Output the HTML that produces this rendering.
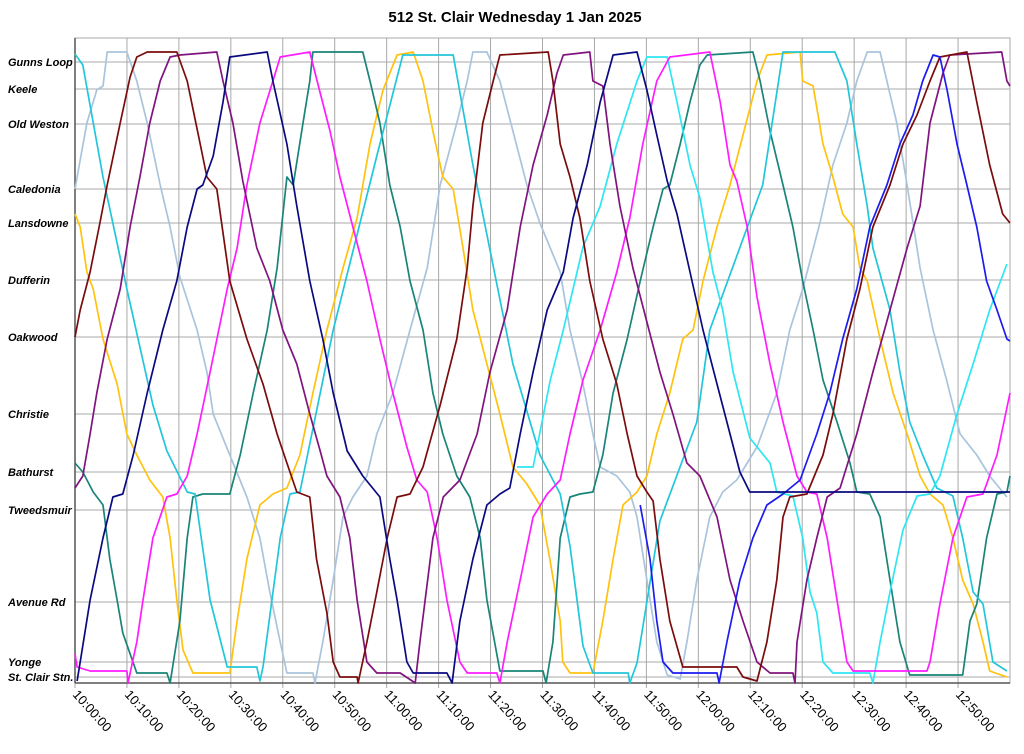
<!DOCTYPE html>
<html><head><meta charset="utf-8"><title>512 St. Clair</title>
<style>
html,body{margin:0;padding:0;background:#fff;}
svg{display:block;font-family:"Liberation Sans",Arial,sans-serif;}
</style></head>
<body>
<svg id="chart" width="1024" height="754" viewBox="0 0 1024 754" xmlns="http://www.w3.org/2000/svg">
<text x="515" y="22" text-anchor="middle" font-size="15" font-weight="bold">512 St. Clair Wednesday 1 Jan 2025</text>
<g id="grid"></g>
<g id="series"></g>
<g id="ylabels"></g>
<g id="xlabels"></g>
</svg>
<script>
// stations: name and distance along route (units)
const stationNames = ["Gunns Loop","Keele","Old Weston","Caledonia","Lansdowne","Dufferin","Oakwood","Christie","Bathurst","Tweedsmuir","Avenue Rd","Yonge","St. Clair Stn."];
const stationDist = [615,588,553,488,454,397,340,263,205,167,75,15,0];
// time ticks (minutes after 10:00)
const tickMinutes = [0,10,20,30,40,50,60,70,80,90,100,110,120,130,140,150,160,170];
const tickLabels = ["10:00:00","10:10:00","10:20:00","10:30:00","10:40:00","10:50:00","11:00:00","11:10:00","11:20:00","11:30:00","11:40:00","11:50:00","12:00:00","12:10:00","12:20:00","12:30:00","12:40:00","12:50:00"];
// vehicles: [minute, distance]
const vehTurquoise = [[0,623],[1.5,612],[5.4,500],[10,388],[15,272],[17.7,226],[21.6,185],[23.1,183],[26,77],[29.3,10],[35,10],[35.6,-4],[36.2,10],[39.5,139],[41.4,183],[43.3,185],[49.7,347],[58.1,521],[63.1,622],[72.8,622],[76.6,512],[84.3,313],[89.5,222],[93.4,183],[95.3,131],[97.8,31],[99.7,4],[106.5,4],[106.8,-6],[108.2,14],[112.6,156],[119.7,255],[122.2,347],[132.4,492],[136.3,625],[146.3,625],[148.6,596],[150.5,533],[152.5,471],[153.6,429],[156.9,367],[158.8,305],[160.7,255],[163.2,222],[165.9,189],[169,181],[170.9,139],[172.9,85],[174.8,73],[176.7,15],[179.4,6]];
const vehAqua = [[85.1,210],[88.2,210],[91.5,297],[94,347],[97.8,430],[101.1,471],[104.3,533],[108.2,596],[110.1,620],[114,620],[115.9,575],[118.4,512],[120.3,479],[122.8,405],[124.7,367],[126.7,305],[129.9,239],[133.8,214],[135.1,185],[138.2,181],[140.1,139],[141.5,85],[142.8,64],[144,15],[145.9,4],[153,4],[153.6,-6],[155,35],[156.9,85],[159.4,147],[162.1,181],[164.6,183],[166.5,201],[169.8,263],[172.9,313],[176.1,367],[179.4,413]];
const vehLightBlue = [[0,488],[1,517],[2.3,554],[4.2,587],[5.4,591],[6.2,625],[10,625],[11.9,596],[13.9,554],[16.4,492],[18.3,450],[20.2,400],[23.5,347],[25.4,305],[26.6,263],[29.8,222],[33.1,180],[35.6,139],[37.5,85],[39.5,35],[40.8,4],[45.8,4],[46.2,-6],[47.7,35],[49.7,97],[51.6,160],[53.5,180],[56.2,201],[58.1,243],[61.2,284],[64.5,347],[67.8,409],[70.3,492],[73.5,554],[75.5,596],[76.6,625],[79.3,625],[81.8,596],[84.3,546],[87,492],[89.5,454],[93.4,405],[95.3,347],[97.8,293],[99.7,243],[101.1,210],[104.3,201],[106.8,185],[108.2,160],[110.1,97],[112,35],[114,2],[116.5,-2],[117.8,35],[119.7,97],[122.2,160],[124.7,185],[127.4,197],[131.3,230],[135.1,284],[137.6,347],[140.1,388],[143.4,454],[145.9,512],[148.6,554],[150.5,596],[152.5,625],[155,625],[156.3,596],[158.2,554],[160.2,492],[162.7,409],[165.2,347],[167.8,297],[170.4,243],[173.6,222],[176.1,201],[179.4,180]];
const vehDarkRed = [[0,340],[1,367],[2.9,405],[4.8,454],[6.2,492],[8.7,554],[10.6,600],[11.9,620],[13.9,625],[19.6,625],[21.6,596],[24.1,533],[25.4,500],[27.3,488],[29.8,396],[33.1,338],[36.2,293],[38.9,243],[40.8,214],[42.7,185],[45.2,180],[46.5,118],[48.5,64],[49.7,15],[51,0],[54.3,0],[54.5,-6],[56.2,35],[58.1,85],[60.1,139],[62,180],[64.5,183],[67,210],[70.3,272],[73.5,338],[75.5,409],[76.6,471],[78.5,554],[80.5,596],[81.8,622],[91.1,625],[92,596],[93.4,533],[95.3,500],[97.2,459],[99.1,396],[101.6,338],[104.3,293],[106.3,243],[108.2,201],[110.1,185],[111.3,176],[112.6,118],[114.5,56],[117,10],[127.4,10],[128.6,0],[131.3,-4],[133.2,35],[135.1,97],[136.3,160],[137.6,180],[140.9,183],[144,222],[145.9,263],[148.6,338],[151.1,388],[153.6,450],[156.9,492],[159.4,533],[162.1,562],[164.6,596],[166.5,620],[171.7,625],[173.6,575],[176.1,512],[178.6,463],[180,454]];
const vehPurple = [[0,189],[1.5,201],[2.9,243],[4.2,284],[6.2,338],[8.7,388],[10.6,450],[12.5,500],[14.4,554],[16.4,596],[18.3,620],[20.2,622],[27.3,625],[28.5,596],[30.4,554],[32.3,496],[35,429],[37.5,396],[40,347],[42.7,313],[45.2,263],[47.2,226],[48.5,201],[51,180],[52.9,139],[54.3,77],[56.2,15],[58.1,4],[62.6,4],[65.5,-6],[66.4,35],[68.9,139],[70.9,180],[74.1,197],[77.4,243],[79.9,305],[83.2,367],[85.7,450],[88.2,512],[90.9,562],[92.8,604],[94,622],[99.1,625],[99.7,596],[101.6,591],[103,533],[104.9,471],[107.4,409],[110.1,355],[112.6,305],[115.1,263],[117.8,214],[120.3,201],[123.6,160],[126.1,97],[128.6,56],[131.3,15],[133.8,4],[138.2,4],[138.6,-6],[139,35],[140.9,97],[142.8,139],[144.8,180],[147.3,189],[150.5,243],[153.6,305],[156.9,367],[160.2,429],[162.7,471],[164.6,554],[167.1,604],[168.4,622],[178.4,625],[179.4,596],[180,591]];
const vehNavy = [[0.4,-4],[1,15],[2.9,77],[5.4,139],[7.3,180],[9.2,183],[11.2,222],[13.9,284],[16.9,347],[19.6,396],[21.6,450],[23.5,488],[24.6,492],[26.6,521],[28.5,575],[29.8,620],[37,625],[38.1,596],[40.8,533],[42.7,471],[45.2,396],[47.7,338],[49.7,284],[52.4,226],[55.4,201],[58.7,180],[60.6,118],[62,77],[63.9,15],[65.1,4],[71.6,4],[72.6,-6],[74.1,56],[76.6,118],[79.3,172],[81.8,183],[83.7,189],[85.7,243],[88.2,305],[90.9,367],[94,405],[95.9,459],[98.6,512],[101.1,575],[103.6,622],[108.2,625],[110.1,587],[112,542],[114,496],[115.9,463],[118.4,405],[120.9,347],[123.6,293],[125.5,255],[128,205],[129.9,185],[180,185]];
const vehBlue = [[108.8,172],[110.7,118],[112,56],[113.2,15],[115.1,4],[123.6,4],[124,-6],[125.5,35],[128,97],[130.5,139],[133.2,172],[136.3,183],[139.6,197],[142.8,243],[145.3,284],[147.8,338],[150.5,388],[153,450],[156.3,492],[158.8,533],[161.3,562],[163.2,596],[165.2,622],[166.5,620],[167.9,587],[169.8,533],[171.7,492],[173.6,450],[175.5,396],[177.5,367],[179.4,338],[180,336]];
const vehMagenta = [[0,23],[0.4,10],[2.9,6],[10,6],[10.2,-6],[11.9,35],[13.1,77],[15,139],[17.7,180],[19.6,183],[21.6,201],[23.5,243],[26,305],[29.3,388],[31.2,429],[33.1,492],[35.6,554],[38.1,596],[39.5,620],[45.2,625],[46.6,596],[49.1,546],[51,500],[53.5,450],[56.2,396],[58.7,338],[61.2,284],[63.9,230],[65.8,197],[67.8,185],[69.7,139],[71.6,77],[74.1,15],[75.5,4],[81.2,4],[81.8,-6],[83.2,35],[85.7,97],[88.2,160],[90.9,183],[93.4,197],[95.3,243],[97.8,297],[101.1,347],[104.3,405],[106.8,459],[109.3,533],[112,596],[114.5,620],[122.2,625],[124.2,575],[126.1,512],[127.4,496],[129.4,450],[131.3,380],[133.8,313],[136.3,255],[139,201],[140.9,185],[142.8,183],[144.8,139],[146.7,77],[148.6,15],[149.8,6],[164,6],[164.6,15],[166.5,73],[169,139],[171.7,180],[174.8,183],[177.5,222],[180,284]];
const vehTeal = [[0,214],[1.5,205],[3.5,185],[5.4,172],[6.7,118],[8.1,77],[9.2,44],[11.9,4],[17.7,4],[18.3,-6],[20.2,56],[21.6,139],[22.7,180],[24.6,183],[29.8,183],[31.8,222],[34.3,284],[37,347],[38.9,409],[40.8,500],[42,492],[43.9,554],[45.2,596],[45.8,625],[55.4,625],[56.8,596],[58.7,554],[60.6,492],[62.6,450],[64.5,396],[67,347],[68.9,284],[70.8,243],[73.5,201],[76,180],[78,139],[79.3,77],[81.8,6],[90.1,6],[90.7,-6],[92,35],[93.4,139],[95.3,180],[97.2,183],[99.7,185],[101.6,222],[103.6,284],[106.3,338],[108.8,396],[111.3,450],[113.2,488],[114.5,492],[116.5,533],[118.4,575],[120.3,612],[121.7,622],[130.5,625],[131.9,596],[133.8,546],[136.3,492],[138.2,450],[140.1,396],[142.1,347],[144,297],[146.7,255],[149.2,214],[150.5,185],[153,183],[155,160],[156.9,97],[158.8,35],[160.7,2],[170.9,2],[172.3,56],[173.6,73],[175.5,139],[177.5,183],[179.4,185],[180,201]];
const vehGold = [[0,463],[1,450],[2.3,405],[3.5,388],[5.4,338],[8.1,293],[10,243],[11.9,222],[14.4,197],[16.9,180],[18.3,139],[19.6,77],[20.8,27],[22.7,4],[29.8,4],[31.2,56],[33.1,118],[35.6,172],[38.1,183],[40.8,189],[43.3,222],[45.8,284],[48.5,347],[51.6,409],[54.3,459],[56.8,533],[59.3,587],[62,622],[65.1,625],[67,596],[68.9,546],[70.8,500],[72.8,488],[74.7,429],[76.6,367],[79.3,313],[81.8,263],[84.3,210],[87,193],[89.5,172],[91.4,118],[93.4,56],[93.9,15],[95.3,4],[99.7,4],[101.6,56],[103.6,118],[105.5,172],[108.2,185],[110.1,201],[112,243],[114.5,284],[117,338],[119,347],[120.9,396],[123.6,450],[126.1,492],[128.6,542],[131.3,596],[133.2,622],[139.6,625],[140.1,596],[142.1,591],[144,533],[145.9,500],[147.8,463],[149.8,450],[151.1,409],[152.5,396],[155,338],[157.5,284],[160.2,243],[162.7,201],[164.6,183],[167.1,172],[169,139],[170.9,97],[172.9,73],[174.8,35],[176.1,6],[179.4,0]];

const NS = "http://www.w3.org/2000/svg";
const X0 = 75, X1 = 1010, Y0 = 38, Y1 = 683;
const T_MIN = 0, T_MAX = 180, D_MIN = -6, D_MAX = 639;
function xScale(t){ return X0 + (t - T_MIN) / (T_MAX - T_MIN) * (X1 - X0); }
function yScale(d){ return Y1 - (d - D_MIN) / (D_MAX - D_MIN) * (Y1 - Y0); }
function mk(tag, attrs, parent){
  const e = document.createElementNS(NS, tag);
  for (const k in attrs) e.setAttribute(k, attrs[k]);
  parent.appendChild(e);
  return e;
}
const grid = document.getElementById('grid');
const series = document.getElementById('series');
const ylab = document.getElementById('ylabels');
const xlab = document.getElementById('xlabels');

// plot frame
const frame = mk('rect', {x:X0, y:Y0, width:X1-X0, height:Y1-Y0, fill:'none', stroke:'#a8a8a8', 'stroke-width':1}, grid);



// horizontal station gridlines + labels
stationNames.forEach((name, i) => {
  const y = yScale(stationDist[i]);
  const gl = mk('line', {x1:X0, x2:X1, y1:y, y2:y, stroke:'#a8a8a8', 'stroke-width':1}, grid);
  
  
  const tx = mk('text', {x:8, y:y + 4, 'font-size':11, 'font-weight':'bold', 'font-style':'italic'}, ylab);
  tx.textContent = name;
  
  
});

// vertical time gridlines + labels
tickMinutes.forEach((m, i) => {
  const x = xScale(m);
  const gl = mk('line', {x1:x, x2:x, y1:Y0, y2:Y1 + 5, stroke:'#a8a8a8', 'stroke-width':1}, grid);
  
  
  const tx = mk('text', {x:x - 3, y:Y1 + 12, 'font-size':13, transform:'rotate(48 ' + (x - 3) + ' ' + (Y1 + 12) + ')'}, xlab);
  tx.textContent = tickLabels[i];
  
  
});

// axes
const ax = mk('line', {x1:X0, x2:X1, y1:Y1, y2:Y1, stroke:'#555', 'stroke-width':1.5}, grid);


const ay = mk('line', {x1:X0, x2:X0, y1:Y0, y2:Y1, stroke:'#555', 'stroke-width':1.5}, grid);



const vehicles = [
  ['vehicle-light-blue', vehLightBlue, '#a9c4dc'],
  ['vehicle-gold', vehGold, '#ffc20e'],
  ['vehicle-teal', vehTeal, '#1a8478'],
  ['vehicle-turquoise', vehTurquoise, '#22c6da'],
  ['vehicle-aqua', vehAqua, '#2ee6f2'],
  ['vehicle-magenta', vehMagenta, '#ff1cff'],
  ['vehicle-purple', vehPurple, '#80147e'],
  ['vehicle-dark-red', vehDarkRed, '#7a0c0c'],
  ['vehicle-blue', vehBlue, '#1c1cf0'],
  ['vehicle-navy', vehNavy, '#0a0a80']
];
vehicles.forEach(v => {
  const pts = v[1].map(p => xScale(p[0]).toFixed(1) + ',' + yScale(p[1]).toFixed(1)).join(' ');
  const pl = mk('polyline', {points:pts, fill:'none', stroke:v[2], 'stroke-width':1.7, 'stroke-linejoin':'round'}, series);
  
  
});
</script>
</body></html>
